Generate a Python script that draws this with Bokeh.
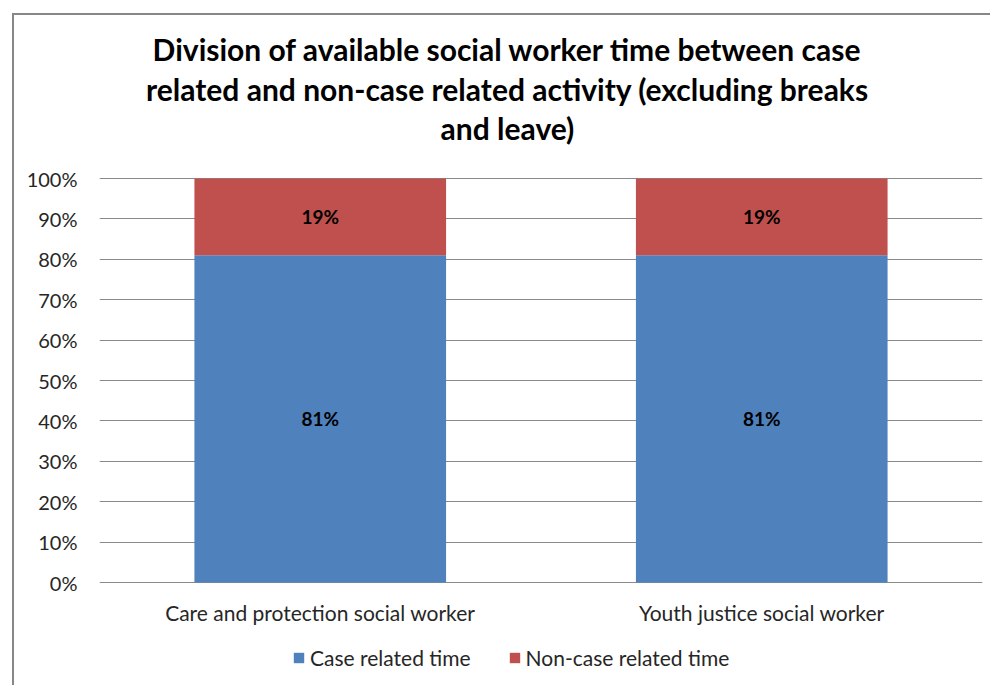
from bokeh.plotting import figure
from bokeh.models import (FactorRange, Range1d, NumeralTickFormatter, FixedTicker, Label,
                          Legend, LegendItem, ColumnDataSource, LabelSet)
from bokeh.core.properties import value
from bokeh.embed import file_html
from bokeh.resources import INLINE

categories = ["Care and protection social worker", "Youth justice social worker"]
series = ["Case related time", "Non-case related time"]
case_related = [0.81, 0.81]
non_case_related = [0.19, 0.19]
title_lines = ["Division of available social worker time between case",
               "related and non-case related activity (excluding breaks",
               "and leave)"]
y_ticks = [0.0, 0.1, 0.2, 0.3, 0.4, 0.5, 0.6, 0.7, 0.8, 0.9, 1.0]
colors = ["#4F81BD", "#C0504D"]

FONT = "Lato"
GRID = "#8a8a8a"
TXT = "#262626"

# frame spans the whole chart height; the value axis occupies 0..1 of it
src = ColumnDataSource(dict(cat=categories, case=case_related, non=non_case_related))

p = figure(width=978, height=672, x_range=FactorRange(*categories, range_padding=0),
           y_range=Range1d(-0.2599, 1.4035), output_backend="svg", toolbar_location=None,
           title=None,
           min_border_left=85, min_border_right=10, min_border_top=0, min_border_bottom=0)
p.margin = (13, 0, 0, 12)
p.styles = {"border-left": "2px solid #878787", "border-top": "2px solid #878787"}
p.outline_line_color = None
p.background_fill_color = "white"
p.border_fill_color = "white"

rs = p.vbar_stack(["case", "non"], x="cat", width=0.57, color=colors, source=src, line_color=None)

p.yaxis.ticker = FixedTicker(ticks=y_ticks)
p.yaxis.formatter = NumeralTickFormatter(format="0%")
p.yaxis.axis_line_color = None
p.yaxis.major_tick_line_color = None
p.yaxis.minor_tick_line_color = None
p.yaxis.major_label_text_font = FONT
p.yaxis.major_label_text_font_size = "20px"
p.yaxis.major_label_text_color = TXT
p.yaxis.major_label_standoff = 16

p.xaxis.visible = False
p.xgrid.grid_line_color = None
p.ygrid.grid_line_color = GRID
p.ygrid.grid_line_width = 1

# category labels under the 0% line
cat_src = ColumnDataSource(dict(x=categories, y=[-0.074] * len(categories), t=categories))
p.add_layout(LabelSet(x="x", y="y", text="t", source=cat_src, text_align="center",
                      text_baseline="middle", text_font=value(FONT),
                      text_font_size="21px", text_color=TXT))

# data labels
lab = ColumnDataSource(dict(
    x=categories + categories,
    y=[c / 2 for c in case_related] + [c + n / 2 for c, n in zip(case_related, non_case_related)],
    t=[f"{round(v*100)}%" for v in case_related] + [f"{round(v*100)}%" for v in non_case_related],
))
p.add_layout(LabelSet(x="x", y="y", text="t", source=lab, text_align="center",
                      text_baseline="middle", text_font=value(FONT), text_font_style="bold",
                      text_font_size="19px", text_color="#000000"))

# title
for i, line in enumerate(title_lines):
    p.add_layout(Label(x=0.924, y=1.3218 - i * 0.099, text=line, text_align="center",
                       text_baseline="middle", text_font=FONT, text_font_style="bold",
                       text_font_size="30px", text_color="#000000"))

legend = Legend(items=[LegendItem(label=series[0], renderers=[rs[0]]),
                       LegendItem(label=series[1], renderers=[rs[1]])],
                orientation="horizontal", location=(193, 17),
                label_text_font=FONT, label_text_font_size="21px", label_text_color=TXT,
                label_height=20, glyph_width=13, glyph_height=13, label_standoff=5, spacing=37,
                padding=0, margin=0, border_line_color=None, background_fill_alpha=0)
p.add_layout(legend, "center")

open("out.html", "w").write(file_html(p, INLINE))
